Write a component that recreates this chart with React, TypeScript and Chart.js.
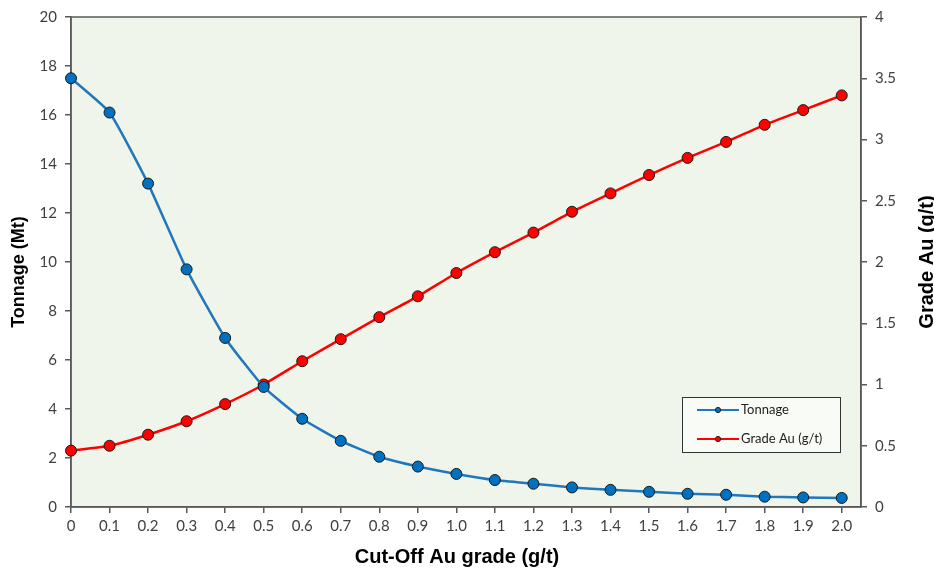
import React, { useEffect, useRef } from "react";
import { Chart, registerables } from "chart.js";

Chart.register(...registerables);

const cutoffGrades = [0, 0.1, 0.2, 0.3, 0.4, 0.5, 0.6, 0.7, 0.8, 0.9, 1.0, 1.1, 1.2, 1.3, 1.4, 1.5, 1.6, 1.7, 1.8, 1.9, 2.0];
const cutoffLabels = ["0", "0.1", "0.2", "0.3", "0.4", "0.5", "0.6", "0.7", "0.8", "0.9", "1.0", "1.1", "1.2", "1.3", "1.4", "1.5", "1.6", "1.7", "1.8", "1.9", "2.0"];
const tonnage = [17.5, 16.1, 13.2, 9.7, 6.9, 4.9, 3.6, 2.7, 2.05, 1.65, 1.35, 1.1, 0.95, 0.8, 0.7, 0.62, 0.54, 0.5, 0.42, 0.39, 0.37];
const gradeAu = [0.46, 0.5, 0.59, 0.7, 0.84, 1.0, 1.19, 1.37, 1.55, 1.72, 1.91, 2.08, 2.24, 2.41, 2.56, 2.71, 2.85, 2.98, 3.12, 3.24, 3.36];
const tonnageTicks = [0, 2, 4, 6, 8, 10, 12, 14, 16, 18, 20];
const gradeTicks = [0, 0.5, 1, 1.5, 2, 2.5, 3, 3.5, 4];
const gradeTickLabels = ["0", "0.5", "1", "1.5", "2", "2.5", "3", "3.5", "4"];
const xTitle = "Cut-Off Au grade (g/t)";
const yTitle = "Tonnage (Mt)";
const y1Title = "Grade Au (g/t)";

const AXIS_COLOR = "#595959";
const TICK_FONT = { family: "Lato, 'Open Sans', sans-serif", size: 15 };
const TITLE_FAMILY = "'Liberation Sans', Arial, sans-serif";

const plotDecor = {
  id: "plotDecor",
  beforeDraw(chart: any) {
    const { ctx, chartArea: a } = chart;
    ctx.save();
    ctx.fillStyle = "#eff5ea";
    ctx.fillRect(a.left, a.top, a.right - a.left, a.bottom - a.top);
    ctx.restore();
  },
  beforeDatasetsDraw(chart: any) {
    const { ctx, chartArea: a } = chart;
    ctx.save();
    ctx.strokeStyle = AXIS_COLOR;
    ctx.lineWidth = 1.5;
    ctx.strokeRect(a.left, a.top, a.right - a.left, a.bottom - a.top);
    ctx.restore();
  },
  afterDraw(chart: any) {
    const { ctx, chartArea: a } = chart;
    ctx.save();
    // axis titles
    ctx.fillStyle = "#000";
    ctx.textAlign = "center";
    ctx.textBaseline = "middle";
    ctx.font = `bold 20px ${TITLE_FAMILY}`;
    ctx.fillText(xTitle, (a.left + a.right) / 2 - 9, a.bottom + 50);
    ctx.save();
    ctx.translate(a.left - 52, (a.top + a.bottom) / 2 + 10);
    ctx.rotate(-Math.PI / 2);
    ctx.font = `bold 18px ${TITLE_FAMILY}`;
    ctx.fillText(yTitle, 0, 0);
    ctx.restore();
    ctx.save();
    ctx.translate(a.right + 66, (a.top + a.bottom) / 2);
    ctx.rotate(-Math.PI / 2);
    ctx.font = `bold 20px ${TITLE_FAMILY}`;
    ctx.fillText(y1Title, 0, 0);
    ctx.restore();

    // legend
    const w = 158;
    const h = 55;
    const x0 = a.right - 21 - w;
    const y0 = a.bottom - 55 - h;
    ctx.fillStyle = "#f8fbf6";
    ctx.fillRect(x0, y0, w, h);
    ctx.strokeStyle = "#333333";
    ctx.lineWidth = 1;
    ctx.strokeRect(x0 + 0.5, y0 + 0.5, w, h);
    chart.data.datasets.forEach((ds: any, i: number) => {
      const y = y0 + 13 + i * 29;
      ctx.strokeStyle = ds.borderColor;
      ctx.lineWidth = 2;
      ctx.beginPath();
      ctx.moveTo(x0 + 15, y);
      ctx.lineTo(x0 + 57, y);
      ctx.stroke();
      ctx.beginPath();
      ctx.arc(x0 + 36, y, 2.6, 0, Math.PI * 2);
      ctx.fillStyle = ds.pointBackgroundColor;
      ctx.fill();
      ctx.strokeStyle = "#222";
      ctx.lineWidth = 1;
      ctx.stroke();
      ctx.fillStyle = "#222";
      ctx.font = "13px Lato, 'Open Sans', sans-serif";
      ctx.textBaseline = "middle";
      ctx.textAlign = "left";
      ctx.fillText(ds.label, x0 + 59, y);
    });
    ctx.restore();
  },
};

export default function App() {
  const ref = useRef<HTMLCanvasElement | null>(null);
  useEffect(() => {
    if (!ref.current) return;
    const chart = new Chart(ref.current, {
      type: "line",
      data: {
        datasets: [
          {
            label: "Tonnage",
            data: cutoffGrades.map((x, i) => ({ x, y: tonnage[i] })),
            yAxisID: "y",
            borderColor: "#2176bd",
            backgroundColor: "#0070c0",
            pointBackgroundColor: "#0070c0",
            pointBorderColor: "#1a1a1a",
            pointBorderWidth: 1,
            pointRadius: 5.5,
            borderWidth: 2.5,
            tension: 0.15,
            clip: false as any,
          },
          {
            label: "Grade Au (g/t)",
            data: cutoffGrades.map((x, i) => ({ x, y: gradeAu[i] })),
            yAxisID: "y1",
            borderColor: "#ff0000",
            backgroundColor: "#ff0000",
            pointBackgroundColor: "#ff0000",
            pointBorderColor: "#1a1a1a",
            pointBorderWidth: 1,
            pointRadius: 5.5,
            borderWidth: 2.5,
            tension: 0.15,
            clip: false as any,
          },
        ],
      },
      options: {
        animation: false,
        responsive: false,
        maintainAspectRatio: false,
        layout: { padding: { top: 15, left: 0, right: 0, bottom: 0 } },
        plugins: { legend: { display: false }, tooltip: { enabled: false } },
        scales: {
          x: {
            type: "linear",
            min: 0,
            max: 2.05,
            afterBuildTicks: (s: any) => {
              s.ticks = cutoffGrades.map((v) => ({ value: v }));
            },
            afterFit: (s: any) => {
              s.height = 62;
            },
            ticks: {
              autoSkip: false,
              maxRotation: 0,
              color: "#404040",
              font: TICK_FONT,
              padding: 4,
              callback: (_v: any, i: number) => cutoffLabels[i],
            },
            grid: { drawOnChartArea: false, drawTicks: true, tickLength: 6, color: AXIS_COLOR, lineWidth: 1.5 },
            border: { display: true, color: AXIS_COLOR, width: 1.5 },
          },
          y: {
            type: "linear",
            position: "left",
            min: 0,
            max: 20,
            afterBuildTicks: (s: any) => {
              s.ticks = tonnageTicks.map((v) => ({ value: v }));
            },
            afterFit: (s: any) => {
              s.width = 71;
            },
            ticks: {
              color: "#404040",
              font: TICK_FONT,
              padding: 8,
              callback: (v: any) => String(v),
            },
            grid: { drawOnChartArea: false, drawTicks: true, tickLength: 6, color: AXIS_COLOR, lineWidth: 1.5 },
            border: { display: true, color: AXIS_COLOR, width: 1.5 },
          },
          y1: {
            type: "linear",
            position: "right",
            min: 0,
            max: 4,
            afterBuildTicks: (s: any) => {
              s.ticks = gradeTicks.map((v) => ({ value: v }));
            },
            afterFit: (s: any) => {
              s.width = 73;
            },
            ticks: {
              color: "#404040",
              font: TICK_FONT,
              padding: 8,
              callback: (_v: any, i: number) => gradeTickLabels[i],
            },
            grid: { drawOnChartArea: false, drawTicks: true, tickLength: 6, color: AXIS_COLOR, lineWidth: 1.5 },
            border: { display: true, color: AXIS_COLOR, width: 1.5 },
          },
        },
      } as any,
      plugins: [plotDecor],
    });
    return () => chart.destroy();
  }, []);
  return (
    <div style={{ position: "fixed", left: 0, top: 0, width: 934, height: 569, background: "#fff" }}>
      <canvas ref={ref} width={934} height={569} style={{ width: 934, height: 569 }} />
    </div>
  );
}
